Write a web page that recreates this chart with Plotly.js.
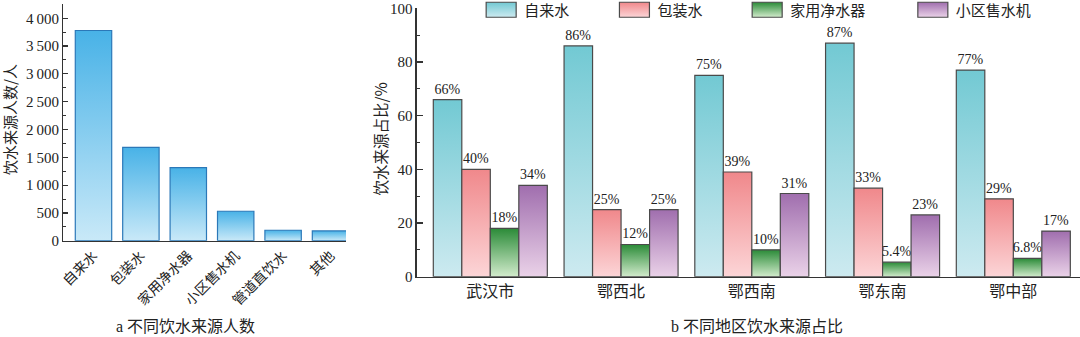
<!DOCTYPE html>
<html><head><meta charset="utf-8">
<script src="https://cdn.plot.ly/plotly-3.0.1.min.js"></script>
<style>html,body{margin:0;padding:0;background:#fff;overflow:hidden}#chart{width:1080px;height:337px}</style>
</head><body>
<div id="chart"></div>
<script>
// ---- data: panel a ----
const sourceCategories = ['自来水', '包装水', '家用净水器', '小区售水机', '管道直饮水', '其他'];
const sourceCounts = [3780, 1680, 1315, 530, 188, 176];
const countTickVals = [0, 500, 1000, 1500, 2000, 2500, 3000, 3500, 4000];
const countTickText = ['0', '500', '1\u2009000', '1\u2009500', '2\u2009000', '2\u2009500', '3\u2009000', '3\u2009500', '4\u2009000'];

// ---- data: panel b ----
const regions = ['武汉市', '鄂西北', '鄂西南', '鄂东南', '鄂中部'];
const seriesNames = ['自来水', '包装水', '家用净水器', '小区售水机'];
const tapWater = [66, 86, 75, 87, 77];
const bottledWater = [40, 25, 39, 33, 29];
const homePurifier = [18, 12, 10, 5.4, 6.8];
const vendingMachine = [34, 25, 31, 23, 17];
const shareSeries = [tapWater, bottledWater, homePurifier, vendingMachine];

// ---- styles ----
const SERIF = '"Liberation Serif", "Noto Sans CJK SC", serif';
const CJK = '"Noto Sans CJK SC", "Liberation Serif", sans-serif';
const leftGrad = ['#48b2e7', '#c9e9f8'];
const rightGrads = [['#72c9d3', '#cdeaf0'], ['#f0888b', '#fcd5d7'], ['#2b8b38', '#d2ebcc'], ['#a06eae', '#ead2e8']];
const legendX = [0.4483, 0.5717, 0.6946, 0.8480];

const data = [];
const gradByTrace = [];
data.push({
  type: 'bar', x: sourceCategories, y: sourceCounts, xaxis: 'x', yaxis: 'y',
  width: 0.768, showlegend: false,
  marker: {color: '#8fd0f0', line: {color: '#2b78b8', width: 1.2}}
});
gradByTrace.push(leftGrad);
shareSeries.forEach((vals, i) => {
  data.push({
    type: 'bar', name: seriesNames[i], x: regions, y: vals, xaxis: 'x2', yaxis: 'y2',
    text: vals.map(v => v + '%'), textposition: 'outside', cliponaxis: false, constraintext: 'none',
    textfont: {family: SERIF, size: 14, color: '#222'},
    legend: i === 0 ? 'legend' : 'legend' + (i + 1),
    marker: {color: rightGrads[i][0], line: {color: '#4a4a4a', width: 1.2}}
  });
  gradByTrace.push(rightGrads[i]);
});

function legendCfg(i) {
  return {orientation: 'h', x: legendX[i], xanchor: 'left', y: 1 + 6.5 / 337, yanchor: 'top',
    bgcolor: 'rgba(0,0,0,0)', font: {family: CJK, size: 15, color: '#222'}, itemwidth: 30};
}

const axisLine = {showline: true, linecolor: '#333', linewidth: 1.3, showgrid: false, zeroline: false, automargin: false};
const layout = {
  width: 1080, height: 337,
  margin: {l: 0, r: 0, t: 0, b: 0, autoexpand: false},
  paper_bgcolor: '#fff', plot_bgcolor: '#fff',
  font: {family: SERIF, color: '#222'},
  barmode: 'group', bargap: 0.128, bargroupgap: 0,
  xaxis: Object.assign({}, axisLine, {domain: [63.3 / 1080, 346 / 1080], range: [-0.637, 5.327],
    ticks: '', tickangle: -45, tickfont: {family: CJK, size: 14, color: '#222'}, anchor: 'y'}),
  yaxis: Object.assign({}, axisLine, {domain: [1 - 240.7 / 337, 1 - 4 / 337], range: [0, 4257],
    tickmode: 'array', tickvals: countTickVals, ticktext: countTickText,
    ticks: 'inside', ticklen: 5, tickwidth: 1.2, tickcolor: '#333',
    tickfont: {family: SERIF, size: 15, color: '#222'}, anchor: 'x',
    minor: {dtick: 250, tick0: 0, ticks: 'inside', ticklen: 3, tickwidth: 1, tickcolor: '#333'}}),
  xaxis2: Object.assign({}, axisLine, {domain: [416.7 / 1080, 1], range: [-0.563, 4.51],
    ticks: '', tickfont: {family: CJK, size: 16, color: '#222'}, anchor: 'y2'}),
  yaxis2: Object.assign({}, axisLine, {domain: [1 - 276.7 / 337, 1 - 8.3 / 337], range: [0, 100],
    dtick: 20, ticks: 'inside', ticklen: 6, tickwidth: 1.2, tickcolor: '#333',
    tickfont: {family: SERIF, size: 15, color: '#222'}, anchor: 'x2',
    minor: {dtick: 10, ticks: 'inside', ticklen: 3, tickwidth: 1, tickcolor: '#333'}}),
  legend: legendCfg(0), legend2: legendCfg(1), legend3: legendCfg(2), legend4: legendCfg(3),
  annotations: [
    {text: '饮水来源人数/人', xref: 'paper', yref: 'paper', x: 9.5 / 1080, y: 1 - 119.5 / 337, textangle: -90,
      showarrow: false, font: {family: CJK, size: 15, color: '#222'}, xanchor: 'center', yanchor: 'middle'},
    {text: '饮水来源占比/%', xref: 'paper', yref: 'paper', x: 379 / 1080, y: 1 - 139.5 / 337, textangle: -90,
      showarrow: false, font: {family: CJK, size: 15.5, color: '#222'}, xanchor: 'center', yanchor: 'middle'},
    {text: 'a 不同饮水来源人数', xref: 'paper', yref: 'paper', x: 185 / 1080, y: 1 - 326 / 337,
      showarrow: false, font: {family: SERIF, size: 16, color: '#222'}, xanchor: 'center', yanchor: 'middle'},
    {text: 'b 不同地区饮水来源占比', xref: 'paper', yref: 'paper', x: 756.5 / 1080, y: 1 - 326 / 337,
      showarrow: false, font: {family: SERIF, size: 16, color: '#222'}, xanchor: 'center', yanchor: 'middle'}
  ]
};

function ensureDefs() {
  const NS = 'http://www.w3.org/2000/svg';
  if (document.getElementById('gradHolder')) return;
  const holder = document.createElementNS(NS, 'svg');
  holder.setAttribute('id', 'gradHolder');
  holder.setAttribute('width', '0'); holder.setAttribute('height', '0');
  holder.style.position = 'absolute'; holder.style.left = '0'; holder.style.top = '0';
  const defs = document.createElementNS(NS, 'defs');
  holder.appendChild(defs);
  document.body.appendChild(holder);
  gradByTrace.forEach((g, i) => {
    const lg = document.createElementNS(NS, 'linearGradient');
    lg.setAttribute('id', 'barGrad' + i);
    lg.setAttribute('x1', '0'); lg.setAttribute('y1', '0'); lg.setAttribute('x2', '0'); lg.setAttribute('y2', '1');
    [[0, g[0]], [1, g[1]]].forEach(s => {
      const st = document.createElementNS(NS, 'stop');
      st.setAttribute('offset', s[0]); st.setAttribute('stop-color', s[1]);
      lg.appendChild(st);
    });
    defs.appendChild(lg);
  });
}

function applyGradients() {
  const gd = document.getElementById('chart');
  ensureDefs();
  gd.querySelectorAll('.barlayer .trace.bars').forEach((tg, k) => {
    let idx = k;
    try { idx = tg.__data__[0].trace.index; } catch (e) {}
    tg.querySelectorAll('path').forEach(p => { p.style.fill = 'url(#barGrad' + idx + ')'; });
  });
  gd.querySelectorAll('.legendpoints path').forEach((p, k) => {
    let idx = k + 1;
    try { idx = p.__data__[0].trace.index; } catch (e) {}
    p.setAttribute('d', 'M12,7.5H-18V-7.5H12Z');
    p.style.fill = 'url(#barGrad' + idx + ')';
    p.style.stroke = '#4a4a4a';
    p.style.strokeWidth = '1.2px';
  });
}

Plotly.newPlot('chart', data, layout, {staticPlot: true, displayModeBar: false}).then(() => {
  applyGradients();
  setTimeout(applyGradients, 50);
  setTimeout(applyGradients, 300);
});
</script>
</body></html>
